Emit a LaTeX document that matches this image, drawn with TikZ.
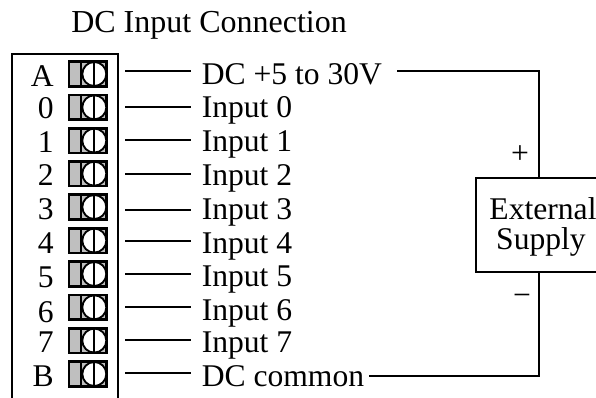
\documentclass[tikz,border=0pt]{standalone}
\usepackage{fontspec}
\setmainfont{Liberation Serif}
\usetikzlibrary{
    positioning,
    calc
}
\tikzset{
    wire/.style={line width=1.5pt},
    lbl/.style={inner sep=0pt, anchor=base west, font=\fontsize{23.7}{23.7}\selectfont},
    pin/.style={inner sep=0pt, anchor=base east, font=\fontsize{23.7}{23.7}\selectfont},
    block/.style={draw, line width=1.9pt, fill=gray!50, minimum width=28pt, minimum height=18.4pt, inner sep=0pt},
    screw/.style={circle, draw, fill=white, line width=1.4pt, minimum size=18pt, inner sep=0pt}
}
\begin{document}
\begin{tikzpicture}[x=0.75pt,y=-0.75pt]
            \useasboundingbox (0,0) rectangle (596,398);
            \node[lbl, font=\fontsize{24}{24}\selectfont] (title) at (71,32.3) {DC Input Connection};
            \node[draw, line width=1.5pt, minimum width=79.5pt, minimum height=270pt, anchor=north west, inner sep=0pt] (housing) at (11,53) {};

            % terminals
            \foreach \i/\name/\y/\b in {0/A/74/87,1/0/107.3/119,2/1/140.6/153,3/2/173.7/186,4/3/207/220,5/4/240.6/254,6/5/274/288,7/6/307.3/322.7,8/7/340.6/353,9/B/374/387} {
                \node[pin] (pin\i) at (54,\b) {\name};
                \node[block] (term\i) at (87.6,\y) {};
                \node[screw] (screw\i) at (94.3,\y) {};
                \draw[line width=1.4pt] (screw\i.north) -- (screw\i.south);
                \draw[line width=1.4pt] (term\i.north -| screw\i.west) -- (term\i.south -| screw\i.west);
            }

            % leads
            \foreach \i/\y in {0/71,1/107.3,2/140.3,3/174,4/210,5/240.7,6/274,7/306.7,8/340,9/373.3} {
                \coordinate (w\i) at (125,\y);
                \coordinate (e\i) at (191,\y);
                \draw[wire] (w\i) -- (e\i);
            }

            \node[lbl] (in0) at (201.5,85) {DC +5 to 30V};
            \foreach \i/\y in {0/118,1/151.7,2/186,3/219.3,4/254,5/286.7,6/320.7,7/353} {
                \node[lbl] (input\i) at (201.5,\y) {Input \i};
            }
            \node[lbl] (in9) at (201.5,386.7) {DC common};

            \node[draw, line width=1.5pt, minimum width=100pt, minimum height=70.5pt, anchor=north west, inner sep=0pt] (supply) at (475,176.7) {};
            \node[lbl, anchor=base] (ext) at (543,220) {External};
            \node[lbl, anchor=base] (sup) at (541,250) {Supply};
            \node[lbl, anchor=base] (plus) at (520,164) {+};
            \node[lbl, anchor=base] (minus) at (522,306) {\textminus};

            \coordinate (t) at (539,71);
            \coordinate (b) at (539,376);
            \coordinate (ts) at (397,71);
            \coordinate (bs) at (369,376);
            \draw[wire] (ts) -- (t) -- (supply.north -| t);
            \draw[wire] (bs) -- (b) -- (supply.south -| b);
        \end{tikzpicture}
\end{document}
